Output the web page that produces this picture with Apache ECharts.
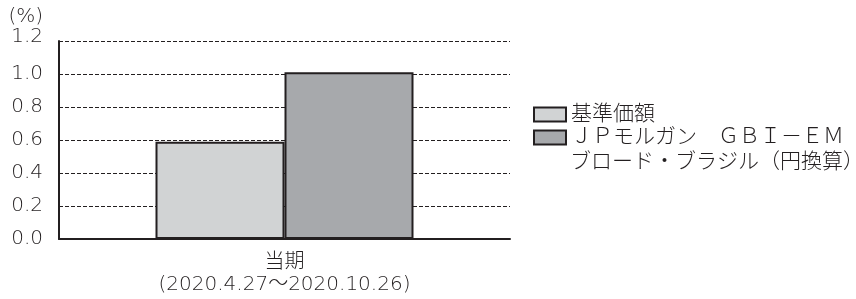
<!DOCTYPE html>
<html lang="ja">
<head>
    <meta charset="UTF-8">
    <title>当期 騰落率</title>
    <script src="https://cdn.jsdelivr.net/npm/echarts@6/dist/echarts.min.js"></script>
    <style>
        html, body { margin: 0; padding: 0; background: #fff; }
        #chart { width: 856px; height: 299px; }
    </style>
</head>
<body>
<div id="chart"></div>
<script type="text/javascript">
    // data
    const categories = ['当期\n(2020.4.27～2020.10.26)'];
    const seriesNames = ['基準価額', 'ＪＰモルガン　ＧＢＩ－ＥＭ'];
    const legendSecondLine = 'ブロード・ブラジル（円換算）';
    const fundValues = [0.59];
    const indexValues = [1.01];
    const colors = ['#d1d3d4', '#a7a9ac'];

    const font = '"DejaVu Sans", "Noto Sans CJK JP", sans-serif';
    const ink = '#231f20';
    const weight = 300;

    let chart = echarts.init(document.getElementById('chart'), null, { renderer: 'canvas' });

    let option = {
        animation: false,
        textStyle: { fontFamily: font, color: ink, fontWeight: weight },
        grid: { left: 59, right: 346, top: 41, bottom: 60 },
        legend: {
            orient: 'vertical',
            left: 533,
            top: 104,
            padding: 0,
            itemWidth: 32,
            itemHeight: 14,
            itemGap: 2,
            icon: 'rect',
            textStyle: { fontFamily: font, fontSize: 21, fontWeight: weight, color: ink },
            data: seriesNames
        },
        graphic: [{
            type: 'text',
            left: 570,
            top: 152,
            style: { text: legendSecondLine, font: weight + ' 21px ' + font, fill: ink }
        }],
        xAxis: {
            type: 'category',
            data: categories,
            axisTick: { show: false },
            axisLine: { lineStyle: { color: ink, width: 2 } },
            axisLabel: { fontSize: 20, fontWeight: weight, color: ink, lineHeight: 22, margin: 13, fontFamily: font }
        },
        yAxis: {
            type: 'value',
            min: 0,
            max: 1.2,
            interval: 0.2,
            name: '(%)',
            nameLocation: 'end',
            nameGap: 9,
            nameTextStyle: { fontSize: 20, fontWeight: weight, color: ink, align: 'right', padding: [0, 16, 0, 0], fontFamily: font },
            axisLine: { show: true, lineStyle: { color: ink, width: 2 } },
            axisTick: { show: false },
            axisLabel: {
                fontSize: 20, fontWeight: weight, color: ink, margin: 16, fontFamily: font,
                formatter: v => (v >= 1.2 ? '{top|' + v.toFixed(1) + '}' : v.toFixed(1)),
                rich: { top: { fontSize: 20, fontWeight: weight, fontFamily: font, color: ink, padding: [0, 0, 9, 0] } }
            },
            splitLine: { lineStyle: { color: ink, width: 1, type: [4, 2] } }
        },
        series: [
            {
                name: seriesNames[0],
                type: 'bar',
                data: fundValues,
                barWidth: 129,
                barGap: '0%',
                itemStyle: { color: colors[0], borderColor: ink, borderWidth: 2 }
            },
            {
                name: seriesNames[1],
                type: 'bar',
                data: indexValues,
                barWidth: 129,
                itemStyle: { color: colors[1], borderColor: ink, borderWidth: 2 }
            }
        ]
    };
    chart.setOption(option);
</script>
</body>
</html>
